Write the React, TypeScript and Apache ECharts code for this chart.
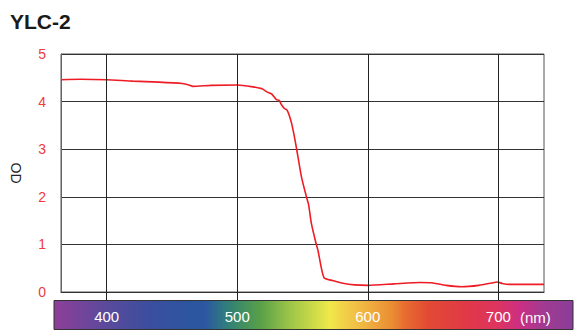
import React, { useEffect, useRef } from "react";
import * as echarts from "echarts";

const wavelengths = [
  365, 380, 400, 420, 440, 458, 463, 466, 480, 500, 512, 519, 523, 526.3, 530, 532, 534,
  536.4, 538.2, 541, 542.8, 545.4, 549.2, 553, 554.7, 556.8, 560, 561.8, 566.4, 573, 580,
  590, 600, 620, 640, 650, 660, 672, 685, 695, 699, 703, 708, 720, 735,
];
const odValues = [
  4.46, 4.47, 4.46, 4.43, 4.41, 4.38, 4.35, 4.32, 4.34, 4.35, 4.31, 4.27, 4.2, 4.16, 4.04,
  4.03, 3.93, 3.85, 3.82, 3.61, 3.4, 3.02, 2.42, 2.0, 1.83, 1.44, 1.06, 0.88, 0.3, 0.24,
  0.19, 0.15, 0.14, 0.17, 0.2, 0.19, 0.14, 0.11, 0.14, 0.19, 0.21, 0.18, 0.16, 0.16, 0.16,
];
const xTicks = [400, 500, 600, 700];
const yTicks = [0, 1, 2, 3, 4, 5];
const titleText = "YLC-2";
const yName = "OD";
const unitText = "(nm)";

// spectrum colour stops: [wavelength, colour]
const spectrumNm = [365, 375, 400, 434, 464, 476, 490, 500, 518, 540, 563, 571, 586, 600, 620, 627, 646, 677, 700, 716, 735, 754];
const spectrumColors = [
  "#8e3f98", "#7a4399", "#5a4a9c", "#3a4e9e", "#2c55a0", "#2c58a0", "#2f7a80", "#3a8a68",
  "#5aa048", "#9cc548", "#d8e048", "#f0e84a", "#f2c848", "#f0b040", "#ea8a32", "#e87030",
  "#e24a34", "#e03848", "#dc3460", "#cc2f82", "#a03a92", "#8a3e98",
];

const FONT = "'Liberation Sans', Arial, Helvetica, sans-serif";

export default function App() {
  const ref = useRef<HTMLDivElement>(null);
  useEffect(() => {
    if (!ref.current) return;
    const chart = echarts.init(ref.current, null, { renderer: "svg" });
    const gridLeft = 61;
    const gridTop = 54;
    const gridWidth = 483;
    const gridHeight = 238;
    const xMin = 365;
    const xMax = 735;
    const barX = 54;
    const barW = 519;
    const nmToFrac = (nm: number) => {
      const px = gridLeft + ((nm - xMin) / (xMax - xMin)) * gridWidth;
      return Math.min(1, Math.max(0, (px - barX) / barW));
    };
    const stops = spectrumNm.map((nm, i) => ({ offset: nmToFrac(nm), color: spectrumColors[i] }));
    stops[0].offset = 0;
    stops[stops.length - 1].offset = 1;

    chart.setOption({
      animation: false,
      backgroundColor: "#ffffff",
      title: {
        text: titleText,
        left: 5,
        top: 6,
        textStyle: { fontFamily: FONT, fontSize: 21, fontWeight: "bold", color: "#1a1a1a" },
      },
      grid: {
        left: gridLeft,
        top: gridTop,
        width: gridWidth,
        height: gridHeight,
        show: true,
        borderColor: "#555",
        borderWidth: 1,
        containLabel: false,
        outerBoundsMode: "none",
      },
      xAxis: {
        type: "value",
        min: xMin,
        max: xMax,
        z: 10,
        axisLine: { show: true, lineStyle: { color: "#333", width: 1 } },
        axisTick: {
          show: true,
          customValues: xTicks,
          length: 8,
          lineStyle: { color: "#222", width: 1 },
        },
        axisLabel: {
          customValues: xTicks,
          color: "#ffffff",
          fontSize: 15,
          fontFamily: FONT,
          margin: 17,
        },
        splitLine: { show: true, lineStyle: { color: "#222", width: 1 } },
      },
      yAxis: {
        type: "value",
        min: 0,
        max: 5,
        interval: 1,
        name: yName,
        nameLocation: "middle",
        nameGap: 38,
        nameRotate: -90,
        nameTextStyle: { fontFamily: FONT, fontSize: 14, color: "#222" },
        axisLine: { show: true, lineStyle: { color: "#666", width: 1 } },
        axisTick: { show: false },
        axisLabel: {
          color: "#ee3b3b",
          fontSize: 14,
          fontFamily: FONT,
          margin: 15,
          customValues: yTicks,
        },
        splitLine: { show: true, lineStyle: { color: "#333", width: 1 } },
      },
      graphic: [
        {
          type: "rect",
          z: 0,
          shape: { x: barX, y: 300.5, width: barW, height: 29 },
          style: {
            fill: new echarts.graphic.LinearGradient(0, 0, 1, 0, stops),
            stroke: "#333",
            lineWidth: 1,
          },
        },
        {
          type: "text",
          z: 100,
          x: 520,
          y: 317,
          style: {
            text: unitText,
            fill: "#ffffff",
            fontSize: 15,
            fontFamily: FONT,
            verticalAlign: "middle",
          },
        },
      ],
      series: [
        {
          type: "line",
          data: wavelengths.map((w, i) => [w, odValues[i]]),
          showSymbol: false,
          smooth: 0.2,
          lineStyle: { color: "#ee1c25", width: 1.6 },
          z: 5,
        },
      ],
    });
    return () => chart.dispose();
  }, []);
  return (
    <div
      ref={ref}
      style={{ position: "fixed", left: 0, top: 0, width: 577, height: 331 }}
    />
  );
}
